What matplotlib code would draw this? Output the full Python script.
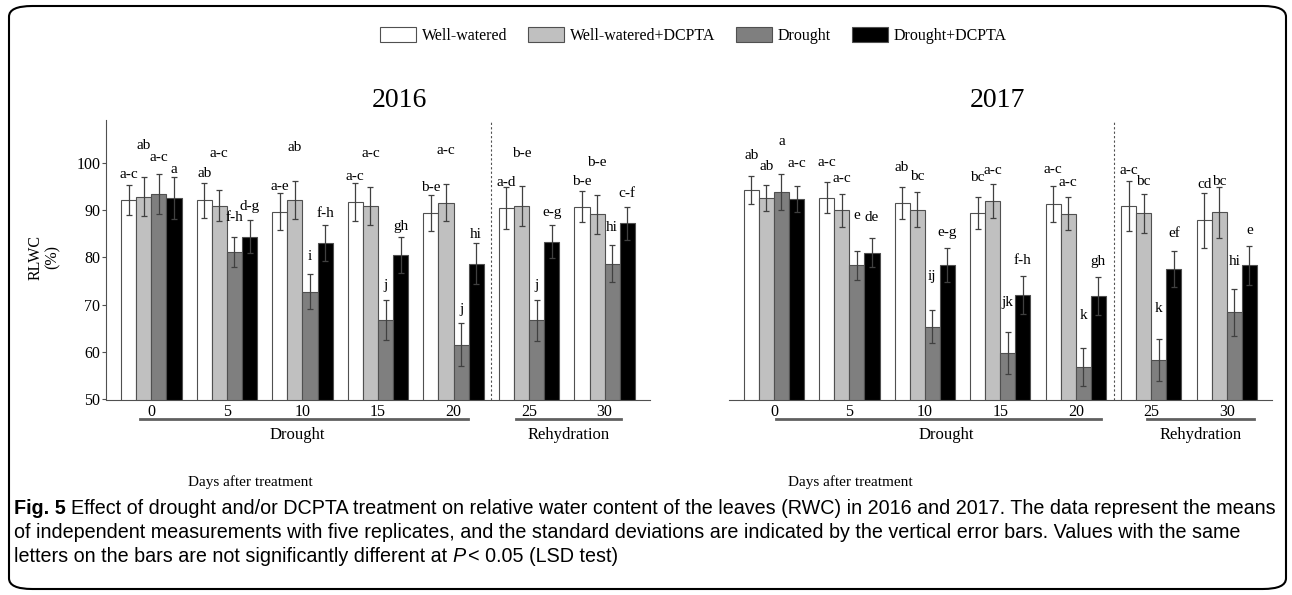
import matplotlib.pyplot as plt
import numpy as np
from matplotlib.patches import Patch, FancyBboxPatch

plt.rcParams['font.family'] = ['Liberation Serif', 'DejaVu Serif']

days = ['0', '5', '10', '15', '20', '25', '30']
treatments = ['Well-watered', 'Well-watered+DCPTA', 'Drought', 'Drought+DCPTA']
colors = ['white', '#c0c0c0', '#7f7f7f', 'black']

# --- 2016 ---
ww16 = [92.1, 92.1, 89.6, 91.7, 89.3, 90.4, 90.7]
wwd16 = [92.8, 90.9, 92.1, 90.8, 91.5, 90.8, 89.1]
d16 = [93.4, 81.1, 72.7, 66.8, 61.6, 66.7, 78.7]
dd16 = [92.5, 84.4, 83.0, 80.4, 78.7, 83.3, 87.2]
ww16_sd = [3.1, 3.7, 3.9, 4.0, 3.8, 4.5, 3.3]
wwd16_sd = [4.1, 3.3, 4.0, 4.0, 3.9, 4.2, 4.1]
d16_sd = [4.2, 3.1, 3.7, 4.3, 4.5, 4.4, 3.9]
dd16_sd = [4.4, 3.5, 3.8, 3.8, 4.4, 3.5, 3.5]
ww16_let = ['a-c', 'ab', 'a-e', 'a-c', 'b-e', 'a-d', 'b-e']
wwd16_let = ['ab', 'a-c', 'ab', 'a-c', 'a-c', 'b-e', 'b-e']
d16_let = ['a-c', 'f-h', 'i', 'j', 'j', 'j', 'hi']
dd16_let = ['a', 'd-g', 'f-h', 'gh', 'hi', 'e-g', 'c-f']

# --- 2017 ---
ww17 = [94.2, 92.6, 91.5, 89.3, 91.2, 90.9, 87.8]
wwd17 = [92.5, 89.9, 90.1, 91.9, 89.2, 89.3, 89.5]
d17 = [93.8, 78.3, 65.4, 59.8, 56.9, 58.4, 68.4]
dd17 = [92.3, 81.0, 78.4, 72.0, 71.8, 77.5, 78.3]
ww17_sd = [3.0, 3.3, 3.3, 3.4, 3.8, 5.3, 5.8]
wwd17_sd = [2.8, 3.5, 3.6, 3.6, 3.5, 4.1, 5.4]
d17_sd = [3.9, 3.0, 3.5, 4.5, 4.0, 4.4, 5.0]
dd17_sd = [2.8, 3.0, 3.6, 4.0, 4.0, 3.8, 4.2]
ww17_let = ['ab', 'a-c', 'ab', 'bc', 'a-c', 'a-c', 'cd']
wwd17_let = ['ab', 'a-c', 'bc', 'a-c', 'a-c', 'bc', 'bc']
d17_let = ['a', 'e', 'ij', 'jk', 'k', 'k', 'hi']
dd17_let = ['a-c', 'de', 'e-g', 'f-h', 'gh', 'ef', 'e']

# heights where the letters sit (staggered as in the original figure)
pos16 = [[97.6, 97.8, 94.9, 97.0, 94.7, 95.8, 96.1],
         [103.7, 102.0, 103.3, 101.9, 102.5, 101.9, 100.1],
         [101.1, 88.5, 80.2, 74.1, 69.0, 74.1, 86.4],
         [98.5, 90.7, 89.2, 86.6, 84.9, 89.4, 93.4]]
pos17 = [[101.6, 100.0, 98.9, 96.8, 98.6, 98.4, 95.4],
         [99.1, 96.7, 97.0, 98.4, 95.8, 96.1, 96.1],
         [104.4, 88.9, 76.0, 70.4, 67.7, 69.2, 79.2],
         [99.8, 88.4, 85.3, 79.4, 79.2, 85.0, 85.7]]

W, H = 1292, 595
fig = plt.figure(figsize=(W / 100, H / 100), dpi=100)

ax1 = fig.add_axes([106 / W, 1 - 399.5 / H, 544 / W, 279.5 / H])
ax2 = fig.add_axes([728.6 / W, 1 - 399.5 / H, 543.4 / W, 279.5 / H])

x = np.arange(len(days))
bw = 0.2
offs = [-0.3, -0.1, 0.1, 0.3]


def draw(ax, means, sds, lets, pos, drought_line, rehyd_line, drought_x, rehyd_x):
    for k in range(4):
        ax.bar(x + offs[k], means[k], bw, color=colors[k], edgecolor='#505050',
               linewidth=0.8, zorder=2)
        ax.errorbar(x + offs[k], means[k], yerr=sds[k], fmt='none', ecolor='#404040',
                    elinewidth=0.9, capsize=2, capthick=0.9, zorder=3)
        for i in range(len(days)):
            ax.text(x[i] + offs[k], pos[k][i], lets[k][i], ha='center', va='center',
                    fontsize=11, zorder=4)
    ax.set_xlim(-0.6, 6.6)
    ax.set_ylim(50, 109)
    ax.axvline(4.5, color='#505050', linestyle=(0, (2, 2)), linewidth=0.8)
    ax.set_xticks(x)
    ax.set_xticklabels(days, fontsize=11.5)
    ax.tick_params(axis='x', length=0, pad=3)
    for s in ['top', 'right']:
        ax.spines[s].set_visible(False)
    ax.spines['bottom'].set_color('#505050')
    ax.spines['left'].set_color('#505050')
    ax.patch.set_alpha(0)
    # group underlines and labels
    tr = ax.get_xaxis_transform()
    ax.plot(drought_line, [-0.07, -0.07], color='#606060', lw=2, transform=tr, clip_on=False)
    ax.plot(rehyd_line, [-0.07, -0.07], color='#606060', lw=2, transform=tr, clip_on=False)
    ax.text(drought_x, -0.128, 'Drought', transform=tr, ha='center', va='center', fontsize=12)
    ax.text(rehyd_x, -0.128, 'Rehydration', transform=tr, ha='center', va='center', fontsize=12)


draw(ax1, [ww16, wwd16, d16, dd16], [ww16_sd, wwd16_sd, d16_sd, dd16_sd],
     [ww16_let, wwd16_let, d16_let, dd16_let], pos16,
     [-0.15, 4.19], [4.82, 6.21], 1.93, 5.52)
draw(ax2, [ww17, wwd17, d17, dd17], [ww17_sd, wwd17_sd, d17_sd, dd17_sd],
     [ww17_let, wwd17_let, d17_let, dd17_let], pos17,
     [0.03, 4.33], [4.95, 6.36], 2.28, 5.65)

ax1.set_yticks([50, 60, 70, 80, 90, 100])
ax1.tick_params(axis='y', labelsize=11.5, length=3, color='#505050', pad=1)
ax2.spines['left'].set_visible(False)
ax2.set_yticks([])

fig.text(44 / W, 1 - 257 / H, 'RLWC\n(%)', rotation=90, ha='center', va='center',
         fontsize=11.5, linespacing=1.1)

fig.text(399 / W, 1 - 100 / H, '2016', ha='center', va='center', fontsize=20)
fig.text(997 / W, 1 - 100 / H, '2017', ha='center', va='center', fontsize=20)

fig.text(250 / W, 1 - 482 / H, 'Days after treatment', ha='center', va='center', fontsize=11)
fig.text(850 / W, 1 - 482 / H, 'Days after treatment', ha='center', va='center', fontsize=11)

handles = [Patch(facecolor=c, edgecolor='#505050', linewidth=0.8) for c in colors]
fig.legend(handles, treatments, loc='center', bbox_to_anchor=(693.5 / W, 1 - 35.5 / H),
           ncol=4, frameon=False, fontsize=11.5, handlelength=2.25, handleheight=1.1,
           handletextpad=0.36, columnspacing=1.3, borderpad=0.2)

# caption
cap_font = ['Liberation Sans Narrow', 'Liberation Sans', 'DejaVu Sans']
line1 = 'Effect of drought and/or DCPTA treatment on relative water content of the leaves (RWC) in 2016 and 2017. The data represent the means'
line2 = 'of independent measurements with five replicates, and the standard deviations are indicated by the vertical error bars. Values with the same'
line3a = 'letters on the bars are not significantly different at'
line3b = '< 0.05 (LSD test)'

r = fig.canvas.get_renderer()


def width_of(t):
    return t.get_window_extent(renderer=r).width


probe = fig.text(0, 0, 'Fig. 5 ' + line1, fontsize=12, family=cap_font)
fs = 12 * 1261 / width_of(probe)
probe.remove()

x0 = 14
sp = fs * 100 / 72 * 0.25
y1, y2, y3 = 1 - 508 / H, 1 - 533 / H, 1 - 557 / H
t = fig.text(x0 / W, y1, 'Fig. 5', fontsize=fs, family=cap_font, weight='bold', va='center')
fig.text((x0 + width_of(t) + sp) / W, y1, line1, fontsize=fs, family=cap_font, va='center')
fig.text(x0 / W, y2, line2, fontsize=fs, family=cap_font, va='center')
t = fig.text(x0 / W, y3, line3a, fontsize=fs, family=cap_font, va='center')
xp = x0 + width_of(t) + sp
t = fig.text(xp / W, y3, 'P', fontsize=fs, family=cap_font, style='italic', va='center')
fig.text((xp + width_of(t) + sp * 0.6) / W, y3, line3b, fontsize=fs, family=cap_font, va='center')

# rounded border around the whole figure
fig.patches.append(FancyBboxPatch((9 / W, 6 / H), 1277 / W, 583 / H,
                                  boxstyle='round,pad=0,rounding_size=0.018',
                                  transform=fig.transFigure, fill=False,
                                  edgecolor='black', linewidth=1.5))

fig.savefig('out.png', dpi=100)
